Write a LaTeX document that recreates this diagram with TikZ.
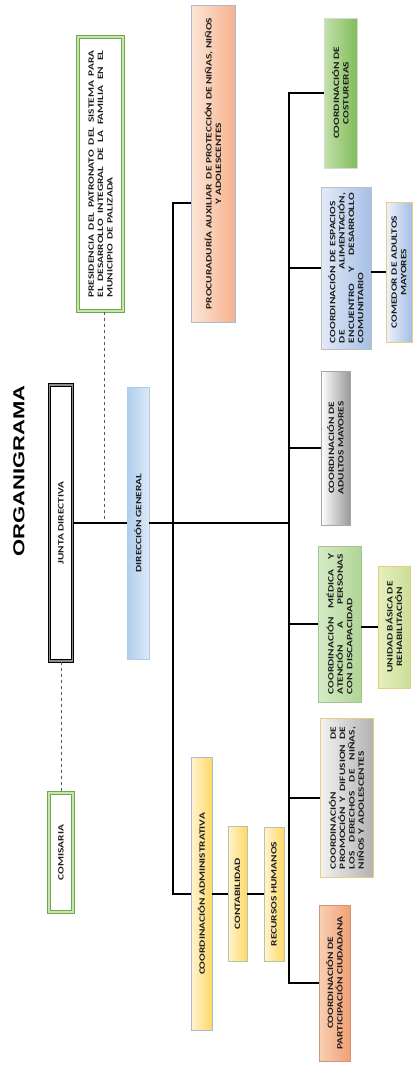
\documentclass[tikz,border=0pt]{standalone}
\usepackage{fontspec}
\setmainfont{Carlito}
\newfontfamily\titlefont{Liberation Sans}
\usetikzlibrary{positioning}

\definecolor{grnline}{HTML}{6EAB46}
\definecolor{grnsoft}{HTML}{C9E3B5}
\definecolor{txtgray}{HTML}{1E1E1E}
\definecolor{peachA}{HTML}{FCE6D8}
\definecolor{peachB}{HTML}{F6B28C}
\definecolor{skyA}{HTML}{AFCDEB}
\definecolor{skyB}{HTML}{DCEAF7}
\definecolor{yelA}{HTML}{FFF4D2}
\definecolor{yelB}{HTML}{FFD866}
\definecolor{leafA}{HTML}{C2E0AA}
\definecolor{leafB}{HTML}{82BD5B}
\definecolor{lavA}{HTML}{E3EAF7}
\definecolor{lavB}{HTML}{A6BFE6}
\definecolor{mintA}{HTML}{D6EBC6}
\definecolor{mintB}{HTML}{B0D596}
\definecolor{limeA}{HTML}{E6F0BF}
\definecolor{limeB}{HTML}{CBDE98}
\definecolor{rustA}{HTML}{F9D0B4}
\definecolor{rustB}{HTML}{F2A074}
\definecolor{frameblue}{HTML}{A8BBD3}
\definecolor{framegold}{HTML}{E5CE82}
\definecolor{framesage}{HTML}{B8C6A2}

\begin{document}
\begin{tikzpicture}[x=1pt,y=-1pt]
  \tikzstyle{box} = [rotate=90, yscale=.72, inner sep=0pt, align=center, text=txtgray,
                     font=\bfseries\fontsize{11.4}{13}\selectfont]
  \tikzstyle{greenframe} = [draw=grnline, line width=1.2pt, double=grnsoft, double distance=1.6pt, fill=white]
  \tikzstyle{wire} = [line width=1.7pt]
  \tikzstyle{link} = [dashed, line width=.7pt, black!65]
  \useasboundingbox (0,0) rectangle (413,1066);

  \node[rotate=90, yscale=.72, font=\titlefont\bfseries\fontsize{22}{24}\selectfont] (title) at (19,471) {ORGANIGRAMA};

  % top level
  \node[box, draw=black, line width=1.3pt, double=black!45, double distance=1.2pt, fill=white,
        minimum width=276pt, minimum height=23/.72] (junta) at (61,523) {JUNTA DIRECTIVA};
  \node[box, greenframe, minimum width=274pt, minimum height=45/.72, text width=247pt, align=left] (presi) at (100.5,174)
    {PRESIDENCIA\hfill DEL\hfill PATRONATO\hfill DEL\hfill SISTEMA\hfill PARA\\
     EL\hfill DESARROLLO\hfill INTEGRAL\hfill DE\hfill LA\hfill FAMILIA\hfill EN\hfill EL\\
     MUNICIPIO DE PALIZADA};
  \node[box, greenframe, minimum width=119pt, minimum height=24/.72] (comi) at (61,852.5) {COMISARIA};
  \node[box, draw=skyA, left color=skyA, right color=skyB,
        minimum width=272pt, minimum height=22/.72] (dir) at (138,523) {DIRECCI\'ON GENERAL};

  % second column
  \node[box, draw=frameblue, left color=peachA, right color=peachB,
        minimum width=317pt, minimum height=44/.72] (procu) at (213,163.5)
    {PROCURADUR\'IA AUXILIAR\ \ DE PROTECCI\'ON DE NI\~NAS, NI\~NOS\\ Y ADOLESCENTES};
  \node[box, draw=frameblue, left color=yelA, right color=yelB,
        minimum width=273pt, minimum height=21/.72] (cadm) at (201.5,894) {COORDINACI\'ON ADMINISTRATIVA};
  \node[box, draw=framesage, left color=yelA, right color=yelB,
        minimum width=135pt, minimum height=19/.72] (conta) at (237.5,894) {CONTABILIDAD};
  \node[box, draw=framesage, left color=yelA, right color=yelB,
        minimum width=134pt, minimum height=20/.72] (rrhh) at (274,894) {RECURSOS HUMANOS};

  % coordinaciones
  \node[box, draw=gray!30, left color=leafA, right color=leafB,
        minimum width=150pt, minimum height=33/.72] (costu) at (340.5,93) {COORDINACI\'ON DE\\ COSTURERAS};
  \node[box, draw=gray!50, left color=lavA, right color=lavB,
        minimum width=162pt, minimum height=50/.72, text width=150pt, align=left] (espa) at (346,268)
    {COORDINACI\'ON DE ESPACIOS\\ DE\hfill ALIMENTACI\'ON,\\ ENCUENTRO\hfill Y\hfill DESARROLLO\\ COMUNITARIO};
  \node[box, draw=framegold, left color=lavA!60!white, right color=lavB,
        minimum width=140pt, minimum height=26/.72] (comedor) at (399,272) {COMEDOR DE ADULTOS\\ MAYORES};
  \node[box, draw=gray!70, left color=white, right color=gray!80,
        minimum width=154pt, minimum height=29/.72] (amay) at (335.5,448) {COORDINACI\'ON DE\\ ADULTOS MAYORES};
  \node[box, draw=mintB!80!gray, left color=mintA, right color=mintB,
        minimum width=156pt, minimum height=43/.72, text width=140pt, align=left] (medica) at (339.5,624)
    {COORDINACI\'ON\hfill M\'EDICA\hfill Y\\ ATENCI\'ON\hfill A\hfill PERSONAS\\ CON DISCAPACIDAD};
  \node[box, draw=framegold, left color=limeA, right color=limeB,
        minimum width=122pt, minimum height=32/.72] (unidad) at (394,627) {UNIDAD B\'ASICA DE\\ REHABILITACI\'ON};
  \node[box, draw=framegold, left color=gray!10, right color=gray!60,
        minimum width=159pt, minimum height=53/.72, text width=142pt, align=left] (promo) at (346.5,798)
    {COORDINACI\'ON\hfill DE\\ PROMOCI\'ON\hfill Y\hfill DIFUSION\hfill DE\\ LOS\hfill DERECHOS\hfill DE\hfill NI\~NAS,\\ NI\~NOS Y ADOLESCENTES};
  \node[box, draw=rustB!70!gray, left color=rustA, right color=rustB,
        minimum width=156pt, minimum height=31/.72] (partic) at (334.5,983) {COORDINACI\'ON DE\\ PARTICIPACI\'ON CIUDADANA};

  % lines
  \coordinate (b1t) at (173,203);
  \coordinate (b1b) at (173,894);
  \coordinate (b2t) at (289,93);
  \coordinate (b2b) at (289,983);
  \coordinate (b2m) at (289,523);
  \draw[link] ([xshift=3.5pt]presi.west) -- ([xshift=3.5pt]presi.west |- b2m);
  \draw[link] (junta) -- (comi);
  \draw[wire] (junta) -- (dir);
  \draw[wire] (dir) -- (b2m);
  \draw[wire] (procu.north |- b1t) -- (b1t) -- (b1b) -- (cadm);
  \draw[wire] (cadm) -- (conta);
  \draw[wire] (conta) -- (rrhh);
  \draw[wire] (costu) -- (b2t) -- (b2b) -- (partic);
  \draw[wire] (b2t |- espa) -- (espa);
  \draw[wire] (b2t |- amay) -- (amay);
  \draw[wire] (b2t |- medica) -- (medica);
  \draw[wire] (b2t |- promo) -- (promo);
  \draw[wire] (comedor) -- (comedor -| espa.south);
  \draw[wire] (unidad) -- (unidad -| medica.south);
\end{tikzpicture}
\end{document}
